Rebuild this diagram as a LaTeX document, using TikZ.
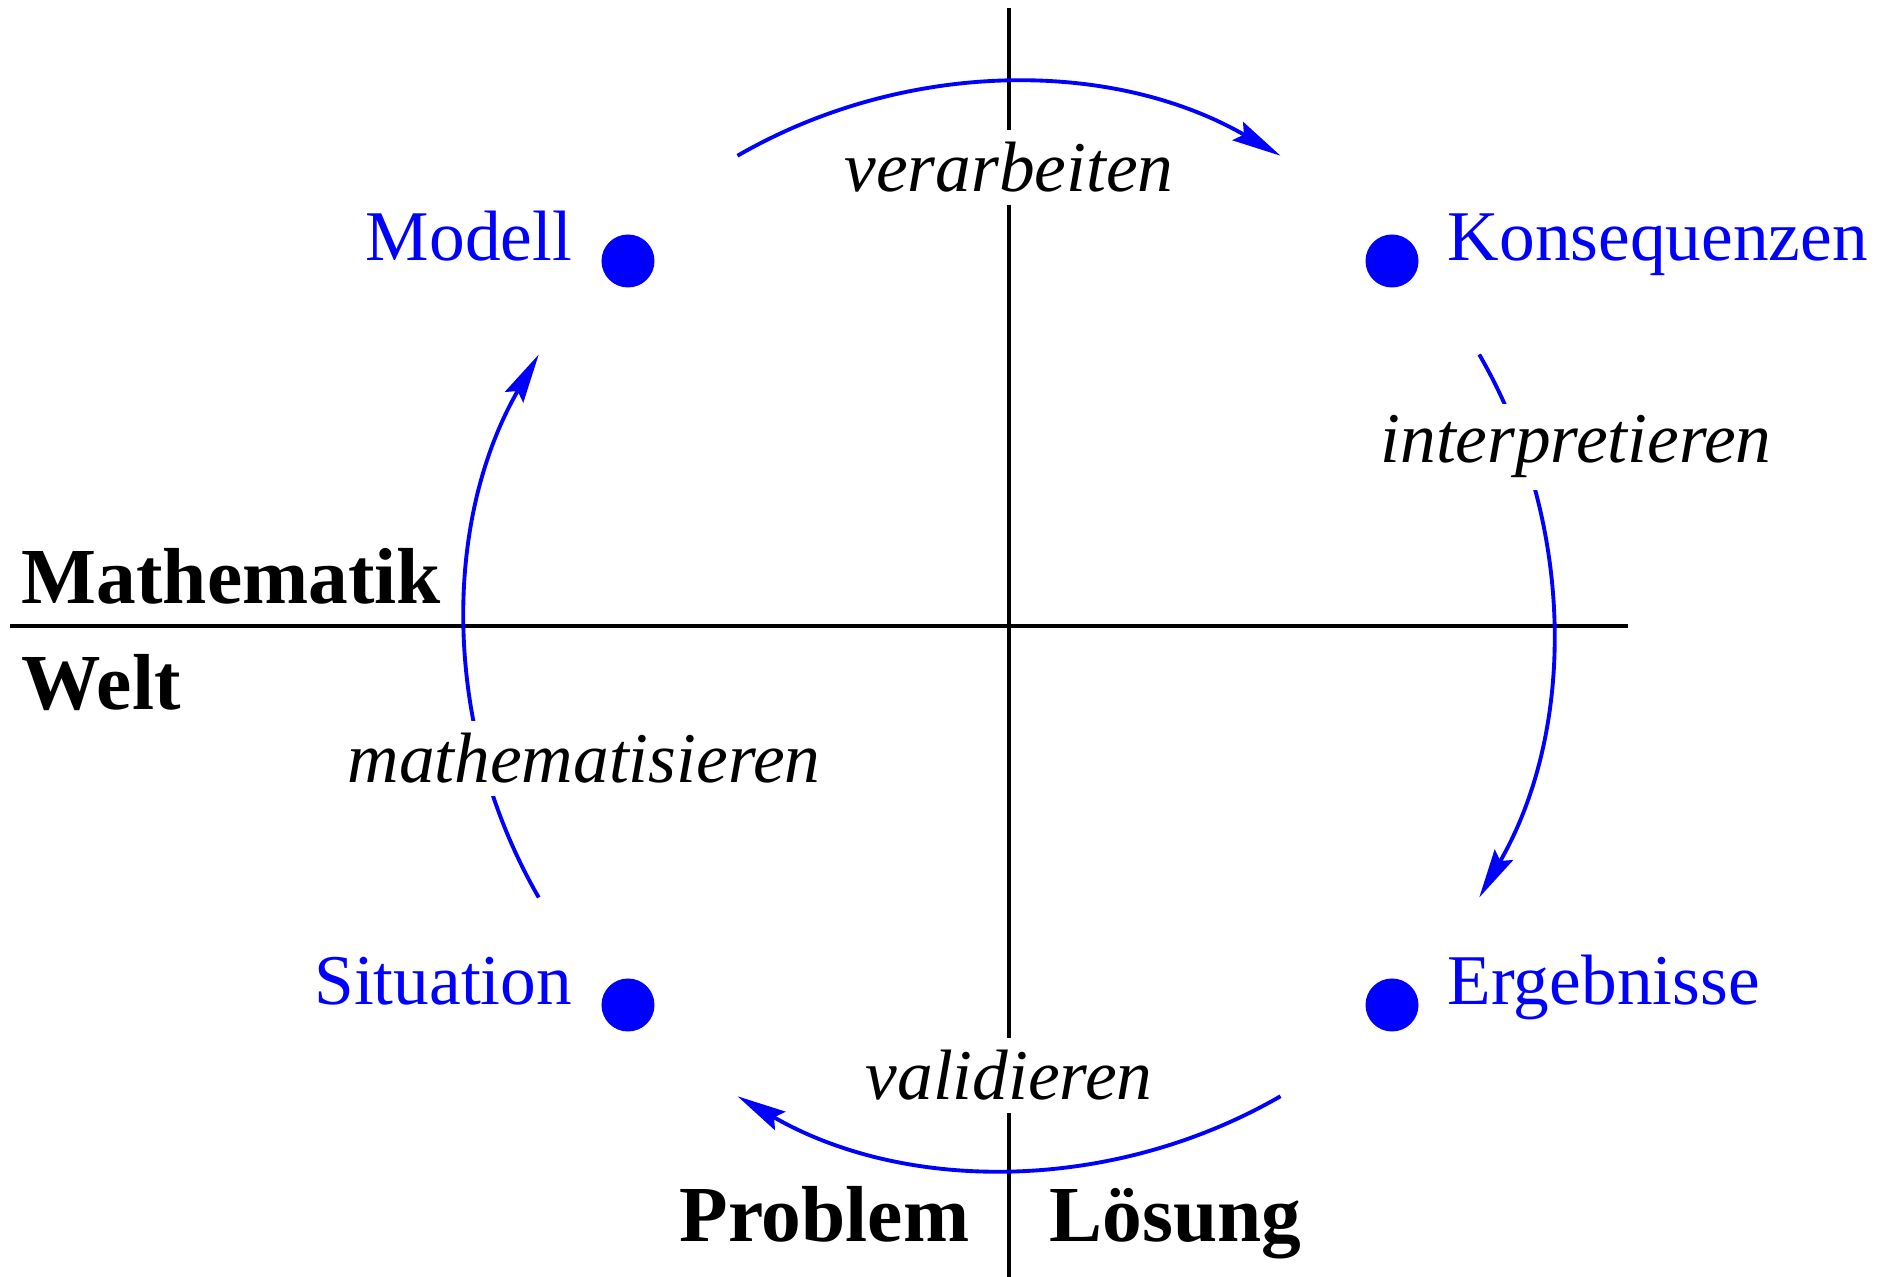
\documentclass[tikz,border=0pt]{standalone}
\usepackage{fontspec}
\setmainfont{Liberation Serif}
\usetikzlibrary{arrows.meta,positioning}
\definecolor{cycle}{HTML}{0000FF}

\tikzset{
  axis/.style={line width=1.2pt},
  stage/.style={circle,fill=cycle,inner sep=0pt,minimum size=0.53cm},
  stagename/.style={font=\fontsize{20.3}{24}\selectfont,text=cycle,inner sep=0pt},
  steplabel/.style={font=\fontsize{20.3}{24}\selectfont\itshape,fill=white,inner sep=0.12cm},
  arealabel/.style={font=\fontsize{22.6}{27}\selectfont\bfseries,inner sep=0pt},
  cyclearrow/.style={cycle,line width=1.1pt,-{Stealth[length=14pt,width=6pt,inset=2pt]}}
}

\begin{document}
\begin{tikzpicture}
  \useasboundingbox (-10.09,-6.51) rectangle (8.79,6.26);
  \def\R{5.43}

  % Axes: Mathematik / Welt and Problem / Loesung
  \coordinate (axisTop) at (0,6.18);
  \coordinate (axisBottom) at (0,-6.51);
  \coordinate (axisLeft) at (-9.99,0);
  \coordinate (axisRight) at (6.19,0);
  \draw[axis] (axisTop) -- (axisBottom);
  \draw[axis] (axisLeft) -- (axisRight);

  % The cycle: four arcs on one circle
  \coordinate (verarbeitenStart) at (120:\R);
  \coordinate (interpretierenStart) at (30:\R);
  \coordinate (validierenStart) at (-60:\R);
  \coordinate (mathematisierenStart) at (210:\R);
  \draw[cyclearrow] (verarbeitenStart) arc[start angle=120,end angle=60,radius=\R];
  \draw[cyclearrow] (interpretierenStart) arc[start angle=30,end angle=-30,radius=\R];
  \draw[cyclearrow] (validierenStart) arc[start angle=-60,end angle=-120,radius=\R];
  \draw[cyclearrow] (mathematisierenStart) arc[start angle=210,end angle=150,radius=\R];

  % Step labels, white boxes cut the lines
  \node[steplabel,anchor=base] (verarbeiten) at (0,4.34) {verarbeiten};
  \node[steplabel,anchor=base] (interpretieren) at (5.67,1.63) {interpretieren};
  \node[steplabel,anchor=base] (validieren) at (0,-4.74) {validieren};
  \node[steplabel,anchor=base] (mathematisieren) at (-4.25,-1.57) {mathematisieren};

  % Stages
  \node[stage] (modellDot) at (-3.81,3.65) {};
  \node[stage] (konsequenzenDot) at (3.83,3.65) {};
  \node[stage] (situationDot) at (-3.81,-3.79) {};
  \node[stage] (ergebnisseDot) at (3.83,-3.79) {};
  \node[stagename,anchor=base east] (modell) at ([xshift=-0.28cm]modellDot.west) {Modell};
  \node[stagename,anchor=base west] (konsequenzen) at ([xshift=0.28cm]konsequenzenDot.east) {Konsequenzen};
  \node[stagename,anchor=base east] (situation) at ([xshift=-0.28cm]situationDot.west) {Situation};
  \node[stagename,anchor=base west] (ergebnisse) at ([xshift=0.28cm]ergebnisseDot.east) {Ergebnisse};

  % Areas
  \node[arealabel,anchor=base west] (mathematik) at (-9.88,0.22) {Mathematik};
  \node[arealabel,anchor=base west] (welt) at (-9.88,-0.84) {Welt};
  \node[arealabel,anchor=base east] (problem) at (-0.39,-6.16) {Problem};
  \node[arealabel,anchor=base west] (loesung) at (0.40,-6.16) {Lösung};
\end{tikzpicture}
\end{document}
